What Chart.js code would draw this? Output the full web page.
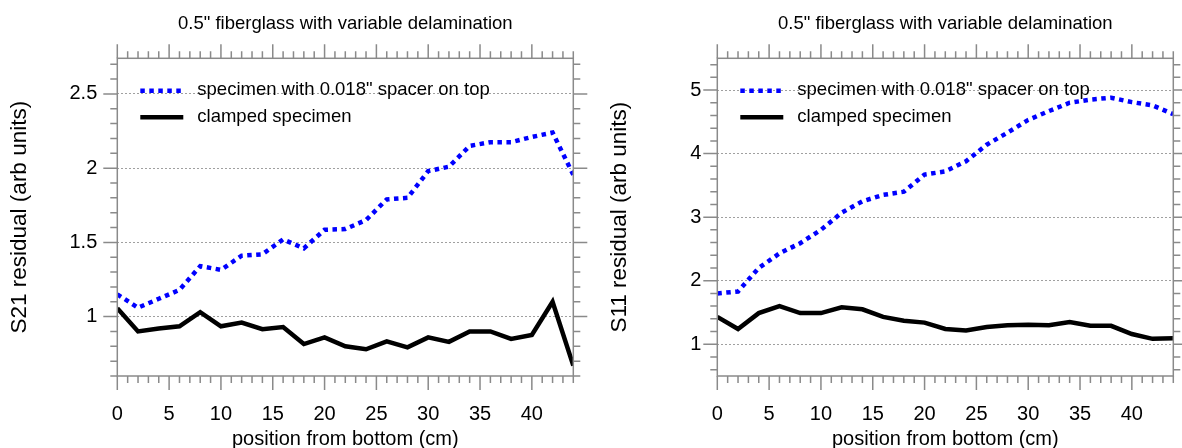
<!DOCTYPE html>
<html>
<head>
<meta charset="utf-8">
<script src="https://cdn.jsdelivr.net/npm/chart.js@4/dist/chart.umd.min.js"></script>
<style>
  html, body { margin: 0; padding: 0; background: #ffffff; }
  #wrap { position: relative; width: 1182px; height: 448px; overflow: hidden; }
  canvas { position: absolute; top: 0; }
  #c1 { left: 0; }
  #c2 { left: 591px; }
</style>
</head>
<body>
<div id="wrap">
  <canvas id="c1" width="591" height="448"></canvas>
  <canvas id="c2" width="591" height="448"></canvas>
</div>
<script>
// Measurement positions along the specimen (cm from the bottom)
const positions = [0, 2, 4, 6, 8, 10, 12, 14, 16, 18, 20, 22, 24, 26, 28, 30, 32, 34, 36, 38, 40, 42, 44];

// S21 residuals
const s21Spacer  = [1.15, 1.06, 1.12, 1.18, 1.34, 1.315, 1.41, 1.42, 1.52, 1.46, 1.585, 1.59, 1.65, 1.79, 1.80, 1.98, 2.01, 2.15, 2.175, 2.175, 2.21, 2.24, 1.955];
const s21Clamped = [1.056, 0.90, 0.92, 0.935, 1.03, 0.935, 0.96, 0.915, 0.93, 0.815, 0.86, 0.80, 0.78, 0.833, 0.793, 0.86, 0.83, 0.90, 0.90, 0.85, 0.876, 1.10, 0.67];

// S11 residuals
const s11Spacer  = [1.80, 1.83, 2.20, 2.43, 2.59, 2.80, 3.07, 3.25, 3.35, 3.40, 3.67, 3.72, 3.88, 4.14, 4.33, 4.53, 4.67, 4.80, 4.85, 4.88, 4.81, 4.76, 4.62];
const s11Clamped = [1.43, 1.24, 1.49, 1.60, 1.49, 1.49, 1.58, 1.55, 1.43, 1.37, 1.34, 1.24, 1.215, 1.27, 1.30, 1.305, 1.30, 1.35, 1.29, 1.29, 1.16, 1.085, 1.095];

// Labelled tick values
const xTicks   = [0, 5, 10, 15, 20, 25, 30, 35, 40];
const s21Ticks = [1, 1.5, 2, 2.5];
const s11Ticks = [1, 2, 3, 4, 5];

const seriesLabels = ['specimen with 0.018" spacer on top', 'clamped specimen'];
const chartTitle = '0.5" fiberglass with variable delamination';
const xTitle = 'position from bottom (cm)';

const FONT = "Helvetica, 'Liberation Sans', Arial, sans-serif";
const AXIS_GRAY = '#8a8a8a';

// Frame around the plot area with outward major/minor tick marks on all four sides
const frameTicks = {
  id: 'frameTicks',
  afterDatasetsDraw(chart, args, opts) {
    const { ctx, chartArea: a, scales } = chart;
    const xs = scales.x, ys = scales.y;
    ctx.save();
    ctx.strokeStyle = AXIS_GRAY;
    ctx.lineWidth = 1.5;
    ctx.strokeRect(a.left, a.top, a.right - a.left, a.bottom - a.top);
    ctx.beginPath();
    const xStep = opts.xMinor;
    for (let i = Math.ceil(xs.min / xStep - 1e-9); i * xStep <= xs.max + 1e-9; i++) {
      const px = xs.getPixelForValue(i * xStep);
      const len = i % 5 === 0 ? 14 : 7;
      ctx.moveTo(px, a.bottom); ctx.lineTo(px, a.bottom + len);
      ctx.moveTo(px, a.top); ctx.lineTo(px, a.top - len);
    }
    const yStep = opts.yMinor;
    for (let i = Math.ceil(ys.min / yStep - 1e-9); i * yStep <= ys.max + 1e-9; i++) {
      const py = ys.getPixelForValue(i * yStep);
      const len = i % 5 === 0 ? 14 : 7;
      ctx.moveTo(a.left, py); ctx.lineTo(a.left - len, py);
      ctx.moveTo(a.right, py); ctx.lineTo(a.right + len, py);
    }
    ctx.stroke();
    ctx.restore();
  }
};

// Legend drawn inside the upper-left corner of the plot area
const innerLegend = {
  id: 'innerLegend',
  afterDatasetsDraw(chart) {
    const { ctx, chartArea: a } = chart;
    ctx.save();
    ctx.font = '18.5px ' + FONT;
    ctx.textBaseline = 'middle';
    ctx.textAlign = 'left';
    chart.data.datasets.forEach((ds, i) => {
      const y = a.top + 32.5 + i * 26.5;
      ctx.strokeStyle = ds.borderColor;
      ctx.lineWidth = ds.borderWidth;
      ctx.setLineDash(ds.borderDash || []);
      ctx.beginPath();
      ctx.moveTo(a.left + 23, y);
      ctx.lineTo(a.left + 66, y);
      ctx.stroke();
      ctx.setLineDash([]);
      ctx.fillStyle = '#000';
      ctx.fillText(ds.label, a.left + 80, y - 0.5);
    });
    ctx.restore();
  }
};

function pts(values) {
  return positions.map((p, i) => ({ x: p, y: values[i] }));
}

function fixedTicks(values) {
  return function (scale) {
    scale.ticks = values.map(v => ({ value: v }));
  };
}

function makeChart(id, cfg) {
  return new Chart(document.getElementById(id), {
    type: 'line',
    data: {
      datasets: [
        {
          label: seriesLabels[0],
          data: pts(cfg.spacer),
          borderColor: '#0000ff',
          borderWidth: 4.5,
          borderDash: [4.5, 4.5],
          pointRadius: 0,
          tension: 0,
          clip: 0
        },
        {
          label: seriesLabels[1],
          data: pts(cfg.clamped),
          borderColor: '#000000',
          borderWidth: 4.5,
          pointRadius: 0,
          tension: 0,
          clip: 0
        }
      ]
    },
    options: {
      responsive: false,
      animation: false,
      devicePixelRatio: 1,
      layout: { padding: { left: 0, right: cfg.padRight, top: 0, bottom: 0 } },
      plugins: {
        legend: { display: false },
        tooltip: { enabled: false },
        title: {
          display: true,
          text: chartTitle,
          fullSize: false,
          color: '#000',
          font: { family: FONT, size: 18.5, weight: 'normal' },
          padding: { top: 12.5, bottom: 23.6 }
        },
        frameTicks: { xMinor: 1, yMinor: cfg.yMinor }
      },
      scales: {
        x: {
          type: 'linear',
          min: 0,
          max: 44,
          grid: { display: false },
          border: { display: false },
          afterBuildTicks: fixedTicks(xTicks),
          ticks: {
            padding: 18,
            color: '#000',
            font: { family: FONT, size: 20 },
            maxRotation: 0,
            callback: v => String(v)
          },
          title: {
            display: true,
            text: xTitle,
            color: '#000',
            font: { family: FONT, size: 20 },
            padding: { top: 0, bottom: -3 }
          },
          afterFit(scale) { scale.height = 72; }
        },
        y: {
          type: 'linear',
          min: cfg.yMin,
          max: cfg.yMax,
          grid: { color: '#a0a0a0', lineWidth: 1, drawTicks: false },
          border: { display: false, dash: [2, 2] },
          afterBuildTicks: fixedTicks(cfg.yTicks),
          ticks: {
            padding: cfg.yLabelPad,
            color: '#000',
            font: { family: FONT, size: 20 },
            callback: v => String(v)
          },
          title: {
            display: true,
            text: cfg.yTitle,
            color: '#000',
            font: { family: FONT, size: 22.5 },
            padding: { top: cfg.yTitlePad, bottom: 0 }
          },
          afterFit(scale) { scale.width = cfg.yWidth; }
        }
      }
    },
    plugins: [frameTicks, innerLegend]
  });
}

makeChart('c1', {
  spacer: s21Spacer, clamped: s21Clamped,
  yMin: 0.6, yMax: 2.74, yTicks: s21Ticks, yMinor: 0.1,
  yTitle: 'S21 residual (arb units)',
  yWidth: 117.3, padRight: 17.7, yLabelPad: 20, yTitlePad: 6.5
});

makeChart('c2', {
  spacer: s11Spacer, clamped: s11Clamped,
  yMin: 0.5, yMax: 5.5, yTicks: s11Ticks, yMinor: 0.2,
  yTitle: 'S11 residual (arb units)',
  yWidth: 126.3, padRight: 8.7, yLabelPad: 16, yTitlePad: 15.5
});
</script>
</body>
</html>
